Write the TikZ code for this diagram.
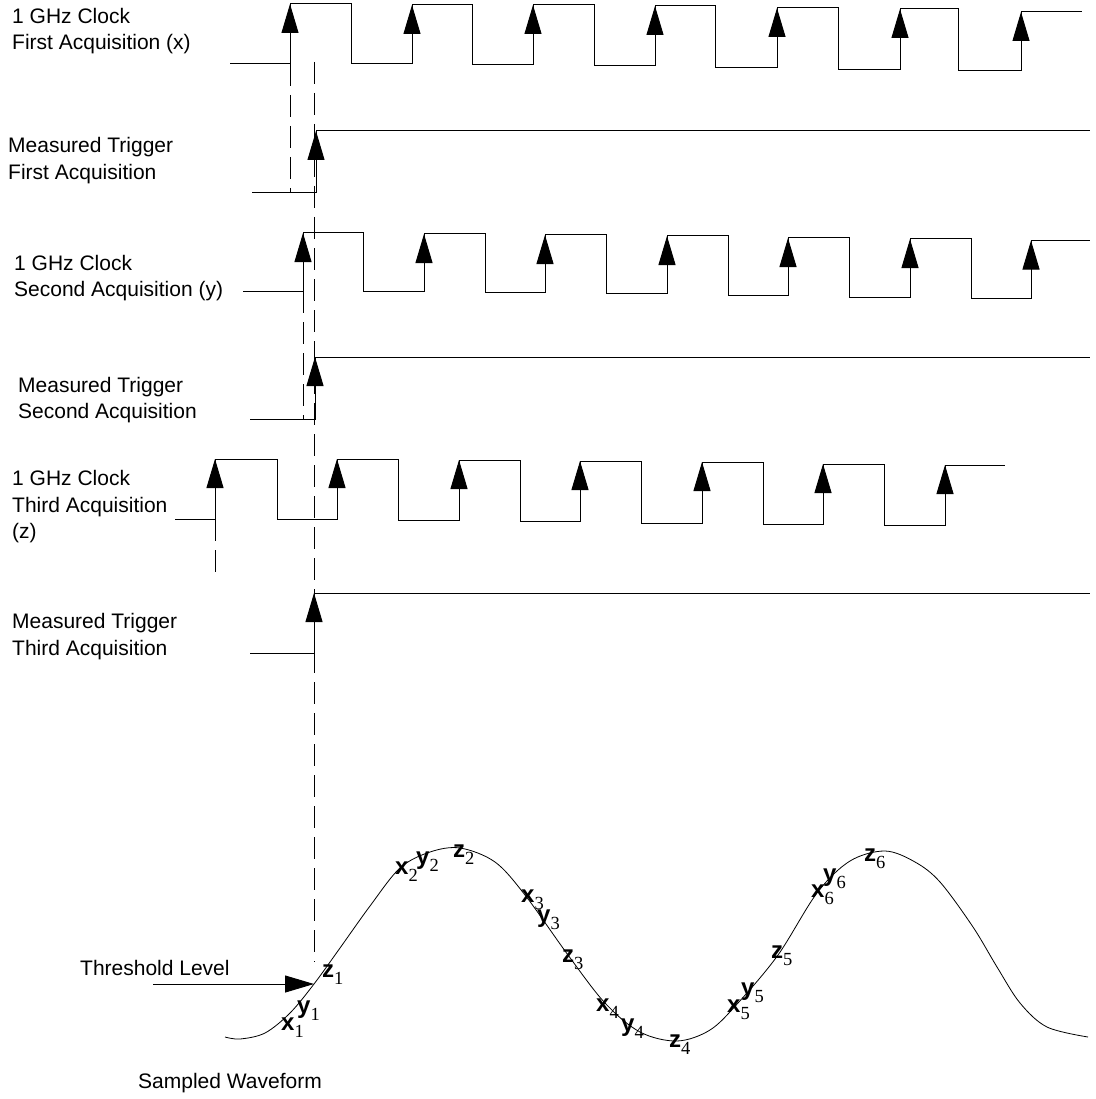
\documentclass[tikz,border=0pt]{standalone}
\usepackage{fontspec}
\setmainfont{Liberation Sans}
\newfontfamily\serifdig{Liberation Serif}
\usetikzlibrary{arrows.meta}
\tikzset{
  sig/.style={line width=1pt, line join=miter},
  redge/.style={line width=1pt, -{Triangle[length=29pt,width=17pt]}},
  dline/.style={line width=0.9pt, dash pattern=on 22pt off 9pt},
  lbl/.style={anchor=base west, inner sep=0pt, font=\fontsize{21}{26}\selectfont},
  slbl/.style={anchor=base west, inner sep=0pt},
  wf/.style={line width=0.8pt},
}
\newcommand{\smp}[2]{{\fontsize{24}{26}\selectfont\bfseries #1}\raisebox{-7pt}{\fontsize{18.5}{20}\selectfont\serifdig #2}}
\begin{document}
\begin{tikzpicture}[x=1pt,y=-1pt]
\useasboundingbox (0,0) rectangle (1095,1099);

% ---- labels
\node[lbl] (c1a) at (12,24) {1 GHz Clock};
\node[lbl] (c1b) at (12,50) {First Acquisition (x)};
\node[lbl] (t1a) at (8,153) {Measured Trigger};
\node[lbl] (t1b) at (8,180) {First Acquisition};
\node[lbl] (c2a) at (14,270) {1 GHz Clock};
\node[lbl] (c2b) at (14,296) {Second Acquisition (y)};
\node[lbl] (t2a) at (18,392) {Measured Trigger};
\node[lbl] (t2b) at (18,418) {Second Acquisition};
\node[lbl] (c3a) at (12,485) {1 GHz Clock};
\node[lbl] (c3b) at (12,512) {Third Acquisition};
\node[lbl] (c3c) at (12,538) {(z)};
\node[lbl] (t3a) at (12,628) {Measured Trigger};
\node[lbl] (t3b) at (12,655) {Third Acquisition};
\node[lbl] (thl) at (80,975) {Threshold Level};
\node[lbl] (swf) at (138,1088) {Sampled Waveform};

% ---- clock 1 (x)
\draw[sig] (230,64) -- (290,64) -- (290,4) -- (351,4) -- (351,64) -- (412,64) -- (412,5) -- (472,5) -- (472,65) -- (533,65) -- (533,5) -- (594,5) -- (594,66) -- (655,66) -- (655,6) -- (715,6) -- (715,68) -- (777,68) -- (777,8) -- (838,8) -- (838,70) -- (900,70) -- (900,9) -- (958,9) -- (958,71) -- (1021,71) -- (1021,12) -- (1082,12);
\foreach \xx/\lo/\hi in {290/64/4, 412/64/5, 533/65/5, 655/66/6, 777/68/8, 900/70/9, 1021/71/12}
  \draw[redge] (\xx,\lo) -- (\xx,\hi);

% ---- trigger 1
\draw[sig] (252,193) -- (316,193) -- (316,131) -- (1090,131);
\draw[redge] (316,193) -- (316,131);

% ---- clock 2 (y)
\draw[sig] (243,291) -- (303,291) -- (303,233) -- (363,233) -- (363,291) -- (424,291) -- (424,234) -- (485,234) -- (485,292) -- (545,292) -- (545,235) -- (606,235) -- (606,293) -- (667,293) -- (667,236) -- (728,236) -- (728,295) -- (788,295) -- (788,238) -- (849,238) -- (849,297) -- (910,297) -- (910,239) -- (971,239) -- (971,298) -- (1031,298) -- (1031,240.5) -- (1090,240.5);
\foreach \xx/\lo/\hi in {303/291/233, 424/291/234, 545/292/235, 667/293/236, 788/295/238, 910/297/239, 1031/298/240.5}
  \draw[redge] (\xx,\lo) -- (\xx,\hi);

% ---- trigger 2
\draw[sig] (250,419) -- (315,419) -- (315,357) -- (1090,357);
\draw[redge] (315,419) -- (315,357);

% ---- clock 3 (z)
\draw[sig] (175,519) -- (215,519) -- (215,459) -- (277,459) -- (277,519) -- (337,519) -- (337,459) -- (398,459) -- (398,520) -- (459,520) -- (459,460) -- (520,460) -- (520,521) -- (580,521) -- (580,461) -- (641,461) -- (641,523) -- (702,523) -- (702,462) -- (763,462) -- (763,524) -- (823,524) -- (823,464) -- (884,464) -- (884,525) -- (945,525) -- (945,465) -- (1005,465);
\foreach \xx/\lo/\hi in {215/519/459, 337/519/459, 459/520/460, 580/521/461, 702/523/462, 823/524/464, 945/525/465}
  \draw[redge] (\xx,\lo) -- (\xx,\hi);

% ---- trigger 3
\draw[sig] (250,653) -- (314,653) -- (314,593) -- (1090,593);
\draw[redge] (314,653) -- (314,593);

% ---- dashed alignment lines
\draw[dline] (290,64) -- (290,193);
\draw[dline] (303,291) -- (303,419);
\draw[dline] (215,519) -- (215,577);
\draw[dline] (314,62) -- (314,962);

% ---- threshold arrow
\coordinate (thrS) at (153,984);
\coordinate (thrE) at (314,984);
\draw[redge] (thrS) -- (thrE);

% ---- sampled waveform
\draw[wf] plot[smooth, tension=0.55] coordinates {
 (225,1037) (240,1039) (265,1033) (290,1013) (314,984) (340,948) (370,906) (400,868) (430,852) (460,848) (495,862) (525,895) (568,955) (605,1003) (640,1032) (677,1041) (710,1030) (738,1003) (778,955) (817,893) (850,861) (885,851) (915,862) (940,882) (973,927) (997,967) (1020,1003) (1047,1027) (1088,1037)};

% ---- sample labels
\node[slbl] (x1) at (281,1030) {\smp{x}{1}};
\node[slbl] (y1) at (297,1013) {\smp{y}{1}};
\node[slbl] (z1) at (322,977) {\smp{z}{1}};
\node[slbl] (x2) at (395,874) {\smp{x}{2}};
\node[slbl] (y2) at (416,864) {\smp{y}{2}};
\node[slbl] (z2) at (453,857) {\smp{z}{2}};
\node[slbl] (x3) at (521,902) {\smp{x}{3}};
\node[slbl] (y3) at (537,922) {\smp{y}{3}};
\node[slbl] (z3) at (562,962) {\smp{z}{3}};
\node[slbl] (x4) at (596,1011) {\smp{x}{4}};
\node[slbl] (y4) at (621,1031) {\smp{y}{4}};
\node[slbl] (z4) at (669,1047) {\smp{z}{4}};
\node[slbl] (x5) at (727,1012) {\smp{x}{5}};
\node[slbl] (y5) at (741,995) {\smp{y}{5}};
\node[slbl] (z5) at (771,958) {\smp{z}{5}};
\node[slbl] (x6) at (811,897) {\smp{x}{6}};
\node[slbl] (y6) at (823,881) {\smp{y}{6}};
\node[slbl] (z6) at (864,861) {\smp{z}{6}};
\end{tikzpicture}
\end{document}
